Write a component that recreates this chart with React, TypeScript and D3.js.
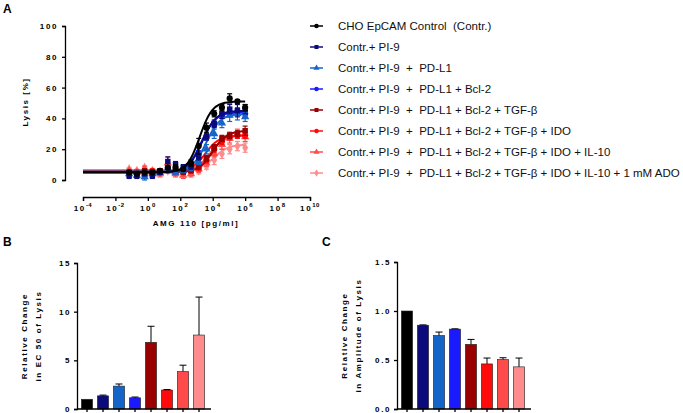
import React, { useRef, useEffect } from 'react';
import * as d3 from 'd3';

// series / legend
const seriesNames = [
  'CHO EpCAM Control  (Contr.)',
  'Contr.+ PI-9',
  'Contr.+ PI-9  +  PD-L1',
  'Contr.+ PI-9  +  PD-L1 + Bcl-2',
  'Contr.+ PI-9  +  PD-L1 + Bcl-2 + TGF-\u03B2',
  'Contr.+ PI-9  +  PD-L1 + Bcl-2 + TGF-\u03B2 + IDO',
  'Contr.+ PI-9  +  PD-L1 + Bcl-2 + TGF-\u03B2 + IDO + IL-10',
  'Contr.+ PI-9  +  PD-L1 + Bcl-2 + TGF-\u03B2 + IDO + IL-10 + 1 mM ADO',
];
const seriesColors = ['#000000', '#0b0b7c', '#1565c8', '#1a1aff', '#990000', '#ff0a0a', '#ff4a4a', '#ff8c8c'];
const seriesSymbols = ['circle', 'square', 'triangle', 'circle', 'square', 'circle', 'triangle', 'diamond'];

// AMG 110 concentrations [pg/ml]
const conc = [0.07, 0.21, 0.63, 1.9, 5.6, 17, 51, 152, 457, 1372, 4115, 12346, 37037, 111111, 333333, 1000000];

// lysis [%] per series
const lysisCtrl = [5, 4, 5, 5, 6, 8, 8, 7, 11, 22, 34, 43, 47, 53, 51, 47];
const lysisPI9 = [3, 3, 4, 3, 5, 12, 10, 8, 9, 15, 28, 36, 43, 46, 45, 46];
const lysisPDL1 = [4, 3, 2, 4, 5, 6, 5, 6, 8, 12, 20, 30, 37, 42, 43, 41];
const lysisBcl2 = [4, 4, 3, 4, 5, 7, 6, 6, 9, 17, 28, 37, 42, 44, 44, 43];
const lysisTGF = [5, 5, 6, 5, 6, 7, 6, 5, 6, 9, 14, 21, 27, 29, 30, 32];
const lysisIDO = [5, 4, 5, 6, 5, 6, 5, 5, 6, 8, 13, 20, 25, 28, 29, 29];
const lysisIL10 = [6, 5, 7, 5, 4, 11, 4, 3, 4, 7, 11, 17, 23, 27, 30, 28];
const lysisADO = [7, 6, 8, 6, 5, 6, 5, 5, 5, 6, 9, 13, 17, 20, 22, 21];
const lysisErr = [
  [1, 1, 1, 1, 1, 1, 2, 1, 2, 5, 3, 2, 2, 3, 1, 2],
  [2, 2, 1, 2, 1, 3, 2, 2, 2, 2, 2, 2, 3, 3, 4, 3],
  [1, 1, 2, 1, 1, 1, 1, 1, 2, 2, 3, 3, 3, 4, 4, 3],
  [1, 1, 1, 1, 1, 1, 1, 1, 2, 2, 2, 2, 2, 3, 2, 2],
  [1, 1, 1, 1, 1, 1, 1, 1, 1, 2, 2, 2, 2, 2, 2, 3],
  [1, 1, 1, 1, 1, 1, 1, 1, 1, 2, 2, 2, 2, 2, 2, 2],
  [1, 1, 2, 1, 2, 4, 2, 2, 2, 2, 2, 2, 3, 3, 3, 3],
  [1, 1, 1, 1, 1, 1, 1, 1, 1, 2, 2, 3, 3, 3, 3, 3],
];

// 4PL fit parameters
const fitBottom = [5, 5, 5.5, 5, 5, 5.5, 6, 6.5];
const fitTop = [51, 45, 43, 44, 32, 29, 29, 23];
const fitLogEC50 = [3.2, 3.35, 3.6, 3.3, 4.0, 3.55, 3.85, 4.1];
const fitHill = [1.1, 1.0, 1.0, 1.0, 1.0, 1.0, 1.0, 1.0];

const xTicksA = [-4, -2, 0, 2, 4, 6, 8, 10];
const yTicksA = [0, 20, 40, 60, 80, 100];

// panel B: relative change in EC50
const ec50Change = [1.0, 1.35, 2.35, 1.15, 6.85, 1.95, 3.85, 7.6];
const ec50Err = [0, 0.08, 0.22, 0.08, 1.65, 0.05, 0.65, 3.9];
const yTicksB = [0, 5, 10, 15];

// panel C: relative change in amplitude
const ampChange = [1.0, 0.855, 0.75, 0.815, 0.66, 0.46, 0.505, 0.43];
const ampErr = [0, 0.003, 0.035, 0.003, 0.05, 0.06, 0.018, 0.09];
const yTicksC = [0, 0.5, 1.0, 1.5];

const lysisAll = [lysisCtrl, lysisPI9, lysisPDL1, lysisBcl2, lysisTGF, lysisIDO, lysisIL10, lysisADO];

const FONT = '"Liberation Sans", Arial, sans-serif';

const symbolOf = (s: string) =>
  s === 'square' ? d3.symbolSquare : s === 'triangle' ? d3.symbolTriangle : s === 'diamond' ? d3.symbolDiamond : d3.symbolCircle;

const tickText = (sel: any) =>
  sel.attr('font-family', FONT).attr('font-weight', 'bold').attr('font-size', 8).attr('letter-spacing', 1.6).attr('fill', '#000');

const drawBars = (svg: any, vals: number[], errs: number[], ticks: number[], fmt: (v: number) => string,
  opt: { x0: number; yTop: number; yBottom: number; labelX: number; lines: string[]; letter: string; letterX: number; letterY: number }) => {
  const step = 16;
  const x = d3.scaleBand<number>().domain(d3.range(vals.length)).range([opt.x0 + 2, opt.x0 + 2 + step * vals.length]).paddingInner(0.3).paddingOuter(0.15);
  const y = d3.scaleLinear().domain([0, ticks[ticks.length - 1]]).range([opt.yBottom, opt.yTop]);
  const g = svg.append('g');

  // bars
  g.selectAll('rect.bar').data(vals).enter().append('rect')
    .attr('x', (d: number, i: number) => x(i))
    .attr('y', (d: number) => y(d))
    .attr('width', x.bandwidth())
    .attr('height', (d: number) => opt.yBottom - y(d))
    .attr('fill', (d: number, i: number) => seriesColors[i])
    .attr('stroke', '#222')
    .attr('stroke-width', 0.6);

  // error bars (upper)
  vals.forEach((v, i) => {
    if (errs[i] <= 0) return;
    const cx = (x(i) as number) + x.bandwidth() / 2;
    g.append('line').attr('x1', cx).attr('x2', cx).attr('y1', y(v)).attr('y2', y(v + errs[i])).attr('stroke', '#000').attr('stroke-width', 1);
    g.append('line').attr('x1', cx - 3.5).attr('x2', cx + 3.5).attr('y1', y(v + errs[i])).attr('y2', y(v + errs[i])).attr('stroke', '#000').attr('stroke-width', 1);
  });

  // axes
  const yAxis = d3.axisLeft(y).tickValues(ticks).tickFormat((d: any) => fmt(d)).tickSize(3).tickPadding(3);
  const ya = g.append('g').attr('transform', `translate(${opt.x0},0)`).call(yAxis);
  ya.selectAll('path, line').attr('stroke', '#000').attr('stroke-width', 1.3);
  tickText(ya.selectAll('text'));

  const xAxis = d3.axisBottom(x).tickSize(3).tickFormat(() => '');
  const xa = g.append('g').attr('transform', `translate(0,${opt.yBottom})`).call(xAxis);
  xa.select('.domain').attr('d', `M${opt.x0},0H${opt.x0 + 2 + step * vals.length + 4}`);
  xa.selectAll('path, line').attr('stroke', '#000').attr('stroke-width', 1.3);

  // axis title
  const midY = (opt.yTop + opt.yBottom) / 2;
  opt.lines.forEach((ln, i) => {
    g.append('text')
      .attr('transform', `translate(${opt.labelX + i * 14},${midY}) rotate(-90)`)
      .attr('text-anchor', 'middle')
      .call(tickText)
      .text(ln);
  });
  svg.append('text').attr('x', opt.letterX).attr('y', opt.letterY)
    .attr('font-family', FONT).attr('font-weight', 'bold').attr('font-size', 12).text(opt.letter);
};

const plot = (svgRef: any) => {
  const svg = d3.select(svgRef.current);
  svg.selectAll('*').remove();

  // ---------- panel A ----------
  const xA = d3.scaleLog().domain([1e-4, 1e10]).range([83, 310]);
  const yA = d3.scaleLinear().domain([0, 100]).range([180, 26]);
  const gA = svg.append('g');

  const yAxisA = d3.axisLeft(yA).tickValues(yTicksA).tickSize(3).tickPadding(4);
  const ya = gA.append('g').attr('transform', 'translate(65,0)').call(yAxisA);
  ya.selectAll('path, line').attr('stroke', '#000').attr('stroke-width', 1.3);
  tickText(ya.selectAll('text'));

  const xAxisA = d3.axisBottom(xA).tickValues(xTicksA.map(e => Math.pow(10, e))).tickSize(4).tickFormat(() => '');
  const xa = gA.append('g').attr('transform', 'translate(0,197)').call(xAxisA);
  xa.selectAll('path, line').attr('stroke', '#000').attr('stroke-width', 1.3);
  xTicksA.forEach(e => {
    const t = gA.append('text').attr('x', xA(Math.pow(10, e))).attr('y', 211).attr('text-anchor', 'middle').call(tickText);
    t.append('tspan').text('10');
    t.append('tspan').attr('dy', -4).attr('font-size', 6).attr('letter-spacing', 0.5).text(String(e));
  });
  gA.append('text').attr('x', 196).attr('y', 226).attr('text-anchor', 'middle').call(tickText).text('AMG 110 [pg/ml]');
  gA.append('text').attr('transform', 'translate(28,102) rotate(-90)').attr('text-anchor', 'middle').call(tickText).text('Lysis [%]');
  svg.append('text').attr('x', 3).attr('y', 13).attr('font-family', FONT).attr('font-weight', 'bold').attr('font-size', 12).text('A');

  // fitted curves
  const curveX = d3.range(-4, 6.01, 0.05);
  const fit = (i: number, lx: number) =>
    fitBottom[i] + (fitTop[i] - fitBottom[i]) / (1 + Math.pow(10, (fitLogEC50[i] - lx) * fitHill[i]));
  const order = d3.range(lysisAll.length).reverse();
  order.forEach(i => {
    const c = seriesColors[i];
    const data = lysisAll[i];
    // error bars
    data.forEach((v, k) => {
      const px = xA(conc[k]);
      const e = lysisErr[i][k];
      gA.append('line').attr('x1', px).attr('x2', px).attr('y1', yA(v - e)).attr('y2', yA(v + e)).attr('stroke', c).attr('stroke-width', 1.2);
      [v - e, v + e].forEach(yy => gA.append('line').attr('x1', px - 2.5).attr('x2', px + 2.5).attr('y1', yA(yy)).attr('y2', yA(yy)).attr('stroke', c).attr('stroke-width', 1.2));
    });
    gA.append('path').datum(curveX)
      .attr('fill', 'none').attr('stroke', c).attr('stroke-width', 2)
      .attr('d', d3.line<number>().x(lx => xA(Math.pow(10, lx))).y(lx => yA(fit(i, lx))));
    gA.selectAll(null).data(data).enter().append('path')
      .attr('transform', (v: number, k: number) => `translate(${xA(conc[k])},${yA(v)})`)
      .attr('d', d3.symbol().type(symbolOf(seriesSymbols[i])).size(30))
      .attr('fill', c);
  });

  // legend
  seriesNames.forEach((n, i) => {
    const ly = 26 + i * 21;
    svg.append('line').attr('x1', 310).attr('x2', 323).attr('y1', ly).attr('y2', ly).attr('stroke', seriesColors[i]).attr('stroke-width', 1.5);
    svg.append('path').attr('transform', `translate(316.5,${ly})`).attr('d', d3.symbol().type(symbolOf(seriesSymbols[i])).size(16)).attr('fill', seriesColors[i]);
    svg.append('text').attr('x', 338).attr('y', ly + 4)
      .attr('font-family', FONT).attr('font-size', 11.5).attr('fill', '#111')
      .style('white-space', 'pre')
      .text(n);
  });

  // ---------- panel B ----------
  drawBars(svg, ec50Change, ec50Err, yTicksB, v => String(v), {
    x0: 77, yTop: 263, yBottom: 409, labelX: 27, lines: ['Relative Change', 'in EC 50 of Lysis'],
    letter: 'B', letterX: 3, letterY: 246,
  });

  // ---------- panel C ----------
  drawBars(svg, ampChange, ampErr, yTicksC, v => d3.format('.1f')(v), {
    x0: 397, yTop: 262, yBottom: 409, labelX: 347, lines: ['Relative Change', 'in Amplitude of Lysis'],
    letter: 'C', letterX: 322, letterY: 246,
  });
};

export default function App() {
  const svgRef = useRef<SVGSVGElement>(null);
  useEffect(() => {
    plot(svgRef);
  }, []);
  return (
    <svg ref={svgRef} width={683} height={413}
      style={{ position: 'absolute', left: 0, top: 0, background: '#fff' }} />
  );
}
